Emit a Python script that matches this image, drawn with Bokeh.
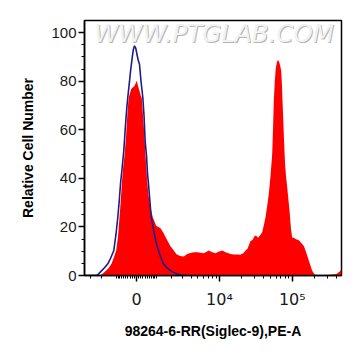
import numpy as np
from bokeh.plotting import figure
from bokeh.models import Range1d, FixedTicker, Label
from bokeh.embed import file_html
from bokeh.resources import INLINE

# ---- data (display channel of the biexponential PE-A axis, relative count) ----
red_channel = [0, 16, 20, 24, 27, 29, 31.7, 33.5, 35, 36.3, 37.3, 38.5, 40, 41.5, 42.5, 43.5,
               44.3, 46.7, 48.5, 50, 51.5, 52.3, 53.5, 55, 56.3, 57.3, 58.5, 59.5, 61, 62.5, 64,
               66, 68.3, 71.7, 74, 76, 79, 82.7, 86, 89.3, 92, 94.3, 97, 99.3, 102.7, 106, 109.3,
               113, 116, 119.3, 122, 124.3, 127, 131, 134, 137.7, 141, 146, 149, 152.7, 156, 159,
               161, 163, 166, 168, 170, 171.5, 173.5, 176, 177.7, 179.5, 181, 182.8, 184.3, 186,
               187.7, 188.5, 189.3, 190.3, 191.2, 192.5, 193.7, 195, 196.7, 197.5, 198, 198.7,
               199.3, 200, 200.7, 201.5, 202.7, 204, 205.3, 206.5, 207.7, 209, 211, 214.3, 217.7,
               219.5, 221, 222.7, 224.3, 226, 227.7, 229.5, 231, 236, 246, 252, 255, 257]
red_count = [0, 0, 1.4, 3, 4.8, 7, 10.3, 16, 24, 31, 37.7, 44, 49.4, 57, 64, 70,
             73.4, 76.8, 77.5, 78, 79.5, 80.2, 78, 76, 74, 73, 66, 60, 49.4, 40, 33,
             28, 24, 20.5, 20, 19.5, 17.5, 14.5, 12, 10.3, 8.8, 8.2, 7.9, 7.8, 8.9, 9.3, 9.6,
             9.6, 9.4, 9.2, 9.8, 10.3, 9.7, 9.2, 9.8, 10.3, 9.6, 8.9, 8.6, 8.6, 8.5, 9.3,
             10.3, 11, 14.2, 14.6, 16.2, 16.5, 15.5, 16.8, 17.8, 21, 24, 29, 33.6, 41,
             50, 60, 72, 80, 85, 88, 88.7, 87.5, 84.4, 78, 72, 65,
             58.3, 51, 45, 41, 36.3, 31, 25.4, 19, 15.5, 15.6, 15, 14.5, 13,
             12, 10.3, 8.2, 6.2, 4, 2, 0.8, 0.2, 0, 0.3, 0.6, 1.5, 2.5]

blue_channel = [0, 11, 13, 16.7, 20, 23.3, 26, 29.3, 31.5, 33.3, 34.8, 36, 37.8, 39.3, 41, 42.3,
                43.3, 44.5, 46, 47.5, 48.8, 50, 51.3, 52.5, 53.8, 55, 56.5, 58.3, 59.5, 60.7, 62,
                63, 64, 65.5, 66.7, 69, 71, 73, 76, 79, 82.7, 86, 89.3, 93, 98, 104]
blue_count = [0, 0, 0.2, 1.8, 3.2, 4.8, 7, 10.3, 17, 24, 31, 37.7, 45, 51.4, 62, 69,
              73.4, 78, 84, 89, 93, 94.6, 93.5, 91, 88.5, 87, 80, 73.4, 66, 55, 49.4,
              42, 37.7, 30, 24, 19, 14.8, 11.5, 7.8, 4.8, 3, 2, 1.2, 0.6, 0.1, 0]

x_tick_values = [0, 1e4, 1e5]
x_tick_labels = ["0", "10\u2074", "10\u2075"]
x_minor_values = ([-3000, -2000] + list(range(-1000, 0, 100)) + list(range(100, 1001, 100))
                  + list(range(2000, 10000, 1000)) + list(range(20000, 100000, 10000))
                  + [200000, 300000, 400000])
y_tick_values = [0, 20, 40, 60, 80, 100]
y_minor_values = list(range(0, 105, 5))

x_title = "98264-6-RR(Siglec-9),PE-A"
y_title = "Relative Cell Number"
watermark = "WWW.PTGLAB.COM"

# ---- biexponential (asinh) display transform: value -> channel ----
CH0, K, C = 52.0, 31.7, 1468.0


def to_channel(v):
    return round(float(CH0 + K * np.arcsinh(v / C)), 4)


X_START, X_END = 0, 257
Y_START, Y_END = 0, 105

p = figure(width=353, height=348, x_range=Range1d(X_START, X_END), y_range=Range1d(Y_START, Y_END),
           output_backend="svg", toolbar_location=None,
           min_border_left=84, min_border_right=12, min_border_top=20, min_border_bottom=73)
p.background_fill_color = "white"
p.border_fill_color = "white"
p.outline_line_color = "black"
p.outline_line_width = 1.5
p.xgrid.visible = False
p.ygrid.visible = False

p.varea(x=red_channel, y1=0, y2=red_count, fill_color="#ff0000", fill_alpha=1.0)
p.line(blue_channel, blue_count, line_color="#1c1c8c", line_width=1.6)

# watermark
wm_x = (X_START + X_END) / 2 + 1
wm_y = Y_END - 5.5
p.add_layout(Label(x=wm_x, y=wm_y, text=watermark, text_align="center", text_baseline="middle",
                   text_font="DejaVu Sans", text_font_size="24.5px", text_font_style="italic",
                   text_color="#b4b4b4", x_offset=1, y_offset=-1))
p.add_layout(Label(x=wm_x, y=wm_y, text=watermark, text_align="center", text_baseline="middle",
                   text_font="DejaVu Sans", text_font_size="24.5px", text_font_style="italic",
                   text_color="#f2f2f2"))

# x axis
major_pos = [to_channel(v) for v in x_tick_values]
minor_pos = [to_channel(v) for v in x_minor_values]
p.xaxis.ticker = FixedTicker(ticks=major_pos, minor_ticks=minor_pos)
p.xaxis.major_label_overrides = {pos: lab for pos, lab in zip(major_pos, x_tick_labels)}
p.yaxis.ticker = FixedTicker(ticks=y_tick_values, minor_ticks=y_minor_values)

for ax in (p.xaxis[0], p.yaxis[0]):
    ax.axis_line_width = 1.5
    ax.axis_line_color = "black"
    ax.major_tick_line_color = "black"
    ax.minor_tick_line_color = "black"
    ax.major_tick_line_width = 1.5
    ax.minor_tick_line_width = 1
    ax.major_tick_out = 6
    ax.major_tick_in = 0
    ax.minor_tick_out = 3
    ax.minor_tick_in = 0
    ax.major_label_text_font = "Liberation Sans"
    ax.major_label_text_font_size = "15px"
    ax.major_label_text_color = "#1a1a1a"
    ax.axis_label_text_font = "Liberation Sans"
    ax.axis_label_text_font_size = "14px"
    ax.axis_label_text_font_style = "bold"
    ax.axis_label_text_color = "black"

p.xaxis.major_label_text_font = "DejaVu Sans"
p.xaxis.major_label_text_font_size = "16px"
p.xaxis.axis_label = x_title
p.yaxis.axis_label = y_title
p.xaxis.major_label_standoff = 8
p.xaxis.axis_label_standoff = 11
p.yaxis.major_label_standoff = 2
p.yaxis.axis_label_standoff = 12

open("out.html", "w").write(file_html(p, INLINE))
